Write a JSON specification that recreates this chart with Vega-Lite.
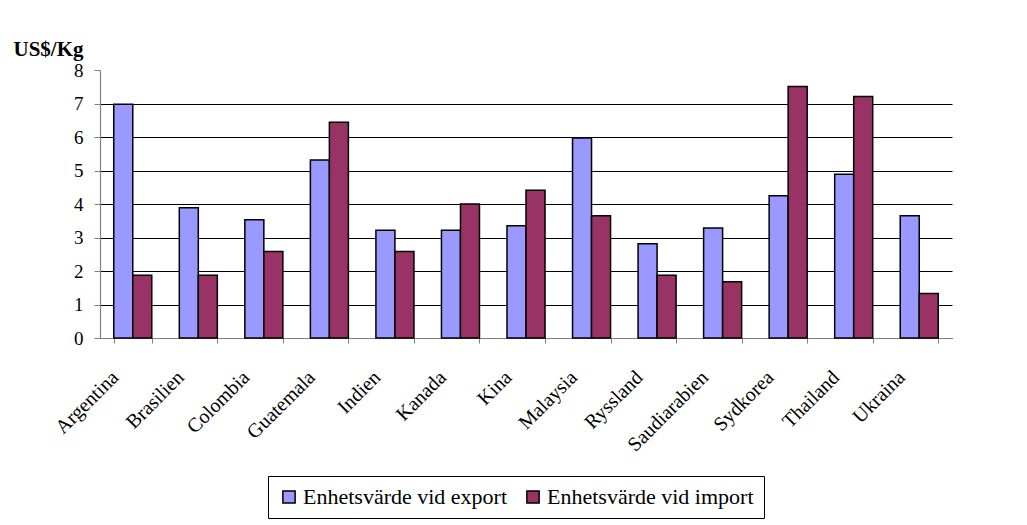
{
  "$schema": "https://vega.github.io/schema/vega-lite/v6.json",
  "width": 852,
  "height": 268,
  "padding": {"left": 13, "top": 38, "right": 10, "bottom": 5},
  "background": "white",
  "data": {
    "values": [
      {"land": "Argentina", "serie": "Enhetsvärde vid export", "värde": 6.98},
      {"land": "Argentina", "serie": "Enhetsvärde vid import", "värde": 1.87},
      {"land": "Brasilien", "serie": "Enhetsvärde vid export", "värde": 3.89},
      {"land": "Brasilien", "serie": "Enhetsvärde vid import", "värde": 1.87},
      {"land": "Colombia", "serie": "Enhetsvärde vid export", "värde": 3.53},
      {"land": "Colombia", "serie": "Enhetsvärde vid import", "värde": 2.58},
      {"land": "Guatemala", "serie": "Enhetsvärde vid export", "värde": 5.31},
      {"land": "Guatemala", "serie": "Enhetsvärde vid import", "värde": 6.44},
      {"land": "Indien", "serie": "Enhetsvärde vid export", "värde": 3.22},
      {"land": "Indien", "serie": "Enhetsvärde vid import", "värde": 2.58},
      {"land": "Kanada", "serie": "Enhetsvärde vid export", "värde": 3.22},
      {"land": "Kanada", "serie": "Enhetsvärde vid import", "värde": 4.0},
      {"land": "Kina", "serie": "Enhetsvärde vid export", "värde": 3.35},
      {"land": "Kina", "serie": "Enhetsvärde vid import", "värde": 4.41},
      {"land": "Malaysia", "serie": "Enhetsvärde vid export", "värde": 5.97},
      {"land": "Malaysia", "serie": "Enhetsvärde vid import", "värde": 3.65},
      {"land": "Ryssland", "serie": "Enhetsvärde vid export", "värde": 2.81},
      {"land": "Ryssland", "serie": "Enhetsvärde vid import", "värde": 1.87},
      {"land": "Saudiarabien", "serie": "Enhetsvärde vid export", "värde": 3.28},
      {"land": "Saudiarabien", "serie": "Enhetsvärde vid import", "värde": 1.68},
      {"land": "Sydkorea", "serie": "Enhetsvärde vid export", "värde": 4.25},
      {"land": "Sydkorea", "serie": "Enhetsvärde vid import", "värde": 7.51},
      {"land": "Thailand", "serie": "Enhetsvärde vid export", "värde": 4.89},
      {"land": "Thailand", "serie": "Enhetsvärde vid import", "värde": 7.21},
      {"land": "Ukraina", "serie": "Enhetsvärde vid export", "värde": 3.65},
      {"land": "Ukraina", "serie": "Enhetsvärde vid import", "värde": 1.33}
    ]
  },
  "mark": {"type": "bar", "stroke": "black", "strokeWidth": 1.5},
  "encoding": {
    "x": {
      "field": "land",
      "type": "nominal",
      "sort": null,
      "scale": {"paddingInner": 0.42, "paddingOuter": 0.21},
      "axis": {
        "title": null,
        "labelAngle": -45,
        "labelAlign": "right",
        "labelBaseline": "middle",
        "labelPadding": 31,
        "labelOffset": -18,
        "labelFont": "Liberation Serif",
        "labelFontSize": 20,
        "labelColor": "black",
        "tickBand": "extent",
        "tickSize": 5,
        "tickColor": "#808080",
        "domainColor": "#808080",
        "grid": false
      }
    },
    "xOffset": {"field": "serie", "type": "nominal"},
    "y": {
      "field": "värde",
      "type": "quantitative",
      "scale": {"domain": [0, 8], "nice": false},
      "axis": {
        "values": [0, 1, 2, 3, 4, 5, 6, 7, 8],
        "title": "US$/Kg",
        "titleAngle": 0,
        "titleAlign": "left",
        "titleBaseline": "alphabetic",
        "titleX": -87,
        "titleY": -15,
        "titleFont": "Liberation Serif",
        "titleFontSize": 21,
        "titleFontWeight": "bold",
        "titleColor": "black",
        "labelFont": "Liberation Serif",
        "labelFontSize": 19,
        "labelColor": "black",
        "labelPadding": 11,
        "tickSize": 6,
        "tickColor": "#808080",
        "domainColor": "#808080",
        "grid": true,
        "gridColor": {"condition": {"test": "datum.value === 8", "value": "transparent"}, "value": "black"},
        "gridWidth": 1.2
      }
    },
    "color": {
      "field": "serie",
      "type": "nominal",
      "scale": {"range": ["#9999FF", "#993366"]},
      "legend": {
        "title": null,
        "orient": "none",
        "legendX": 168,
        "legendY": 406,
        "direction": "horizontal",
        "symbolType": "square",
        "symbolSize": 150,
        "symbolStrokeColor": "black",
        "symbolStrokeWidth": 1.5,
        "symbolOpacity": 1,
        "labelFont": "Liberation Serif",
        "labelFontSize": 22,
        "labelColor": "black",
        "labelLimit": 300,
        "labelOffset": 3,
        "columnPadding": 14,
        "strokeColor": "black",
        "padding": 10
      }
    }
  },
  "config": {
    "font": "Liberation Serif",
    "view": {"stroke": null},
    "axis": {"domainWidth": 1.2},
    "legend": {"labelFont": "Liberation Serif"}
  }
}
